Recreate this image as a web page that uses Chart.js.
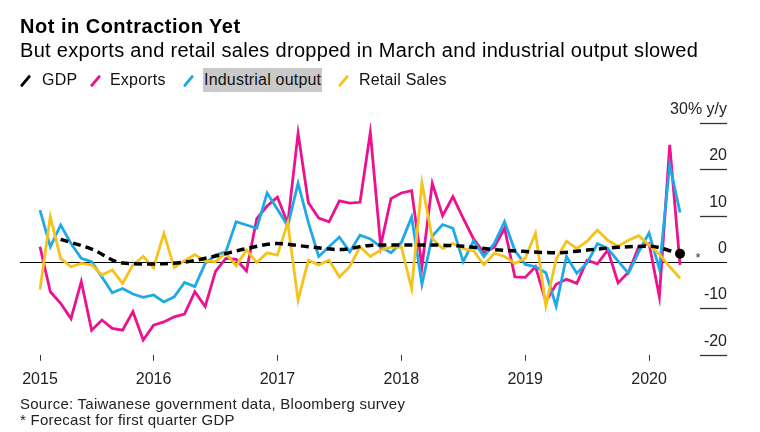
<!DOCTYPE html>
<html>
<head>
<meta charset="utf-8">
<title>Not in Contraction Yet</title>
<script src="https://cdn.jsdelivr.net/npm/chart.js@4.4.1/dist/chart.umd.min.js"></script>
<style>
  html, body { margin: 0; padding: 0; background: #fff; }
  #wrap {
    position: relative; width: 760px; height: 432px; overflow: hidden;
    font-family: "Liberation Sans", Arial, sans-serif; color: #000;
  }
  #chart { position: absolute; left: 0; top: 0; }
  .txt { position: absolute; line-height: 1; white-space: nowrap; }
  .title { left: 20px; top: 16px; font-size: 20px; font-weight: bold; letter-spacing: 0.5px; }
  .subtitle { left: 20px; top: 40px; font-size: 20px; letter-spacing: 0.3px; }
  .leg { top: 72px; font-size: 16px; letter-spacing: 0.2px; color: #111; }
  .hl { background: #c9c9c9; padding: 3px 1px 4px 1px; margin-left: -1px; }
  .sw { position: absolute; top: 74px; width: 3px; height: 14px; transform: rotate(40deg); border-radius: 1px; }
  .note { left: 20px; font-size: 15px; letter-spacing: 0.25px; color: #222; }
</style>
</head>
<body>
<div id="wrap">
  <canvas id="chart" width="760" height="432"></canvas>

  <div class="txt title">Not in Contraction Yet</div>
  <div class="txt subtitle">But exports and retail sales dropped in March and industrial output slowed</div>

  <div class="sw" style="left:24px;background:#000"></div>
  <div class="txt leg" style="left:42px">GDP</div>
  <div class="sw" style="left:94px;background:#ec118f"></div>
  <div class="txt leg" style="left:110px">Exports</div>
  <div class="sw" style="left:187px;background:#1fa9e6"></div>
  <div class="txt leg" style="left:204px"><span class="hl">Industrial output</span></div>
  <div class="sw" style="left:342px;background:#f6c31c"></div>
  <div class="txt leg" style="left:359px">Retail Sales</div>

  <div class="txt note" style="top:396px">Source: Taiwanese government data, Bloomberg survey</div>
  <div class="txt note" style="top:412px">* Forecast for first quarter GDP</div>
</div>

<script>
// monthly, Jan 2015 .. Mar 2020, % y/y
const exportsYoY = [
  3.3, -6.4, -8.9, -12.2, -4.2, -14.7, -12.5, -14.3, -14.7, -10.7, -16.8, -13.6,
  -12.9, -11.8, -11.2, -6.4, -9.6, -2.0, 0.8, 0.6, -1.9, 9.4, 12.1, 14.0,
  8.3, 27.8, 12.8, 9.5, 8.7, 13.2, 12.7, 12.9, 28.0, 3.5, 13.7, 14.9,
  15.4, -1.0, 17.0, 10.0, 14.1, 9.4, 5.0, 2.0, 3.2, 7.3, -3.2, -3.3,
  -1.0, -8.5, -4.8, -3.7, -4.6, 0.4, -0.4, 2.6, -4.5, -2.2, 3.3, 4.0,
  -7.5, 25.3, -0.6
];
const industrialYoY = [
  11.2, 3.3, 8.0, 4.0, 0.8, 0.1, -3.2, -6.6, -5.7, -6.9, -7.6, -7.1,
  -8.6, -7.5, -4.4, -5.3, -0.3, 1.5, 2.2, 8.7, 8.0, 7.3, 14.9, 11.4,
  7.8, 17.0, 8.5, 1.2, 3.3, 5.4, 2.2, 5.8, 5.0, 3.3, 2.0, 4.2,
  9.7, -4.8, 5.6, 8.1, 7.3, 0.1, 4.6, 1.2, 4.0, 8.7, 2.5, -0.5,
  -1.0, -2.3, -9.5, 1.2, -2.4, -0.2, 4.0, 2.9, 0.2, -2.4, 2.2, 6.3,
  -1.5, 21.0, 10.7
];
const retailYoY = [
  -5.9, 9.8, 0.8, -1.0, -0.3, -0.6, -2.8, -1.7, -4.6, -0.6, 1.2, -1.2,
  6.2, -1.2, 0.3, 1.6, 0.2, 0.1, 1.9, -0.8, 2.6, -0.1, 2.0, 1.5,
  8.5, -8.2, 0.4, -0.6, 0.4, -3.2, -1.0, 3.3, 1.2, 2.6, 3.2, 3.3,
  -5.7, 17.0, 5.1, 2.9, 4.0, 2.9, 2.4, -0.6, 1.9, 1.2, -0.3, 0.8,
  6.2, -9.4, 0.6, 4.5, 2.9, 4.5, 6.9, 4.7, 3.4, 4.7, 5.7, 3.7,
  1.7, -1.0, -3.5
];
// quarterly, Q1 2015 .. Q1 2020 (last one is the forecast)
const gdpYoY = [
  4.9, 2.8, -0.2, -0.4, 0.0, 1.3, 2.9, 4.0, 3.3, 2.7, 3.6, 3.7,
  3.7, 3.4, 2.7, 2.3, 2.0, 2.6, 3.2, 3.4, 1.8
];

const yearLabels = ['2015', '2016', '2017', '2018', '2019', '2020'];
const yearTicks = [1, 12, 24, 36, 48, 60]; // months elapsed since 1 Jan 2015
const yTicks = [30, 20, 10, 0, -10, -20];
const yTickLabels = ['30% y/y', '20', '10', '0', '-10', '-20'];

const FONT = '"Liberation Sans", Arial, sans-serif';

// each month is plotted at its month end
const monthly = arr => arr.map((v, i) => ({ x: i + 1, y: v }));
const quarterly = arr => arr.map((v, i) => ({ x: i * 3 + 3, y: v }));

const rightAxis = {
  id: 'rightAxis',
  beforeDatasetsDraw(chart) {
    const { ctx, chartArea, scales: { y } } = chart;
    ctx.save();
    const y0 = Math.round(y.getPixelForValue(0)) + 0.5;
    ctx.strokeStyle = '#000';
    ctx.lineWidth = 1;
    ctx.beginPath();
    ctx.moveTo(chartArea.left, y0);
    ctx.lineTo(chartArea.right, y0);
    ctx.stroke();

    ctx.font = '16px ' + FONT;
    ctx.fillStyle = '#222';
    ctx.textAlign = 'right';
    ctx.textBaseline = 'alphabetic';
    ctx.strokeStyle = '#333';
    ctx.lineWidth = 1.3;
    yTicks.forEach((v, i) => {
      const py = Math.round(y.getPixelForValue(v)) + 0.5;
      if (v !== 0) {
        ctx.beginPath();
        ctx.moveTo(chartArea.right - 27, py);
        ctx.lineTo(chartArea.right, py);
        ctx.stroke();
      }
      ctx.fillText(yTickLabels[i], chartArea.right, py - 10);
    });
    ctx.restore();
  },
  afterDatasetsDraw(chart) {
    const { ctx, scales: { x, y } } = chart;
    const last = gdpYoY.length - 1;
    ctx.save();
    ctx.font = '13px ' + FONT;
    ctx.fillStyle = '#333';
    ctx.textAlign = 'center';
    ctx.fillText('*', x.getPixelForValue(last * 3 + 3) + 18, y.getPixelForValue(gdpYoY[last]) + 8);
    ctx.restore();
  }
};

new Chart(document.getElementById('chart'), {
  type: 'line',
  data: {
    datasets: [
      {
        label: 'GDP',
        data: quarterly(gdpYoY),
        borderColor: '#000',
        backgroundColor: '#000',
        borderWidth: 3.5,
        borderDash: [8, 5],
        cubicInterpolationMode: 'monotone',
        pointRadius: ctx => ctx.dataIndex === gdpYoY.length - 1 ? 5 : 0,
        pointBorderWidth: 0,
        order: 0
      },
      {
        label: 'Exports',
        data: monthly(exportsYoY),
        borderColor: '#ec118f',
        borderWidth: 2.8,
        pointRadius: 0,
        order: 3
      },
      {
        label: 'Industrial output',
        data: monthly(industrialYoY),
        borderColor: '#1fa9e6',
        borderWidth: 2.8,
        pointRadius: 0,
        order: 2
      },
      {
        label: 'Retail Sales',
        data: monthly(retailYoY),
        borderColor: '#f6c31c',
        borderWidth: 2.8,
        pointRadius: 0,
        order: 1
      }
    ]
  },
  options: {
    responsive: false,
    animation: false,
    devicePixelRatio: 1,
    layout: { padding: { left: 20, right: 33, top: 123, bottom: 34 } },
    plugins: { legend: { display: false }, tooltip: { enabled: false } },
    events: [],
    scales: {
      x: {
        type: 'linear',
        min: -0.9375,
        max: 67.55,
        afterBuildTicks: scale => { scale.ticks = yearTicks.map(v => ({ value: v })); },
        ticks: {
          callback: (v, i) => yearLabels[i],
          autoSkip: false,
          maxRotation: 0,
          padding: 9,
          color: '#222',
          font: { family: FONT, size: 16 }
        },
        grid: { drawOnChartArea: false, drawTicks: true, tickLength: 6, color: '#333', lineWidth: 1 },
        border: { display: false }
      },
      y: {
        display: false,
        min: -20,
        max: 30
      }
    }
  },
  plugins: [rightAxis]
});
</script>
</body>
</html>
